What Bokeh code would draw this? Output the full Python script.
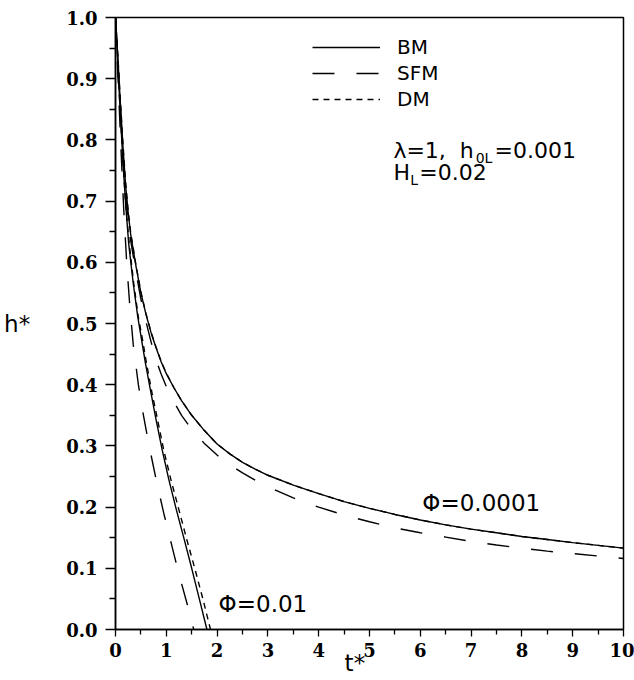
from bokeh.plotting import figure
from bokeh.models import (Range1d, FixedTicker, PrintfTickFormatter, Label,
                          Legend, LegendItem)
from bokeh.embed import file_html
from bokeh.resources import INLINE

# ---------------- data ----------------
# Phi = 0.0001
t_bm_a = [0.0, 0.025, 0.05, 0.075, 0.1, 0.15, 0.2, 0.25, 0.3, 0.4, 0.5, 0.6,
          0.7, 0.8, 0.9, 1.0, 1.15, 1.3, 1.5, 1.75, 2.0, 2.25, 2.5, 2.75, 3.0,
          3.5, 4.0, 4.5, 5.0, 5.5, 6.0, 6.5, 7.0, 7.5, 8.0, 8.5, 9.0, 9.5, 10.0]
h_bm_a = [1.0, 0.965, 0.93, 0.89, 0.855, 0.785, 0.725, 0.68, 0.645, 0.595,
          0.55, 0.515, 0.485, 0.46, 0.437, 0.418, 0.395, 0.374, 0.35, 0.325,
          0.303, 0.287, 0.273, 0.262, 0.252, 0.236, 0.222, 0.209, 0.198, 0.188,
          0.179, 0.171, 0.164, 0.158, 0.152, 0.147, 0.142, 0.1375, 0.133]
t_dm_a = [0.0, 0.025, 0.05, 0.075, 0.1, 0.15, 0.2, 0.25, 0.3, 0.4, 0.5, 0.6,
          0.7, 0.8, 0.9, 1.0, 1.15, 1.3, 1.5, 1.75, 2.0, 2.25, 2.5, 2.75, 3.0,
          3.5, 4.0, 4.5, 5.0, 5.5, 6.0, 6.5, 7.0, 7.5, 8.0, 8.5, 9.0, 9.5, 10.0]
h_dm_a = [1.0, 0.967, 0.934, 0.895, 0.86, 0.79, 0.73, 0.684, 0.648, 0.597,
          0.552, 0.516, 0.486, 0.461, 0.438, 0.419, 0.395, 0.374, 0.35, 0.325,
          0.303, 0.287, 0.273, 0.262, 0.252, 0.236, 0.222, 0.209, 0.198, 0.188,
          0.179, 0.171, 0.164, 0.158, 0.152, 0.147, 0.142, 0.1375, 0.133]
t_sfm_a = [0.0, 0.025, 0.05, 0.075, 0.1, 0.15, 0.2, 0.25, 0.3, 0.4, 0.5, 0.6,
           0.7, 0.8, 0.9, 1.0, 1.15, 1.3, 1.5, 1.75, 2.0, 2.25, 2.5, 2.75, 3.0,
           3.5, 4.0, 4.5, 5.0, 5.5, 6.0, 6.5, 7.0, 7.5, 8.0, 8.5, 9.0, 9.5,
           10.0]
h_sfm_a = [1.0, 0.96, 0.92, 0.88, 0.845, 0.775, 0.715, 0.67, 0.635, 0.585,
           0.54, 0.503, 0.47, 0.44, 0.417, 0.397, 0.372, 0.35, 0.327, 0.304,
           0.285, 0.269, 0.256, 0.244, 0.233, 0.215, 0.200, 0.187, 0.176,
           0.166, 0.158, 0.151, 0.144, 0.138, 0.133, 0.128, 0.124, 0.12, 0.116]

# Phi = 0.01
t_bm_b = [0.0, 0.025, 0.05, 0.075, 0.1, 0.15, 0.2, 0.26, 0.35, 0.44, 0.52,
          0.59, 0.7, 0.8, 0.92, 1.05, 1.2, 1.35, 1.5, 1.65, 1.8]
h_bm_b = [1.0, 0.96, 0.92, 0.875, 0.835, 0.76, 0.695, 0.63, 0.565, 0.51, 0.47,
          0.435, 0.386, 0.342, 0.293, 0.245, 0.195, 0.148, 0.10, 0.05, 0.0]
t_dm_b = [0.0, 0.025, 0.05, 0.075, 0.1, 0.15, 0.2, 0.27, 0.36, 0.45, 0.54,
          0.61, 0.72, 0.83, 0.95, 1.09, 1.25, 1.4, 1.56, 1.72, 1.87]
h_dm_b = [1.0, 0.96, 0.92, 0.875, 0.835, 0.76, 0.695, 0.63, 0.565, 0.51, 0.47,
          0.435, 0.386, 0.342, 0.293, 0.245, 0.195, 0.148, 0.10, 0.05, 0.0]
t_sfm_b = [0.0, 0.025, 0.05, 0.075, 0.1, 0.13, 0.16, 0.22, 0.28, 0.35, 0.45,
           0.55, 0.65, 0.8, 0.95, 1.1, 1.25, 1.4, 1.54]
h_sfm_b = [1.0, 0.95, 0.9, 0.85, 0.8, 0.745, 0.69, 0.6, 0.53, 0.465, 0.40,
           0.35, 0.305, 0.245, 0.19, 0.14, 0.09, 0.045, 0.0]

x_major = [0, 1, 2, 3, 4, 5, 6, 7, 8, 9, 10]
x_minor = [0.5, 1.5, 2.5, 3.5, 4.5, 5.5, 6.5, 7.5, 8.5, 9.5]
y_major = [0.0, 0.1, 0.2, 0.3, 0.4, 0.5, 0.6, 0.7, 0.8, 0.9, 1.0]
y_minor = [0.05, 0.15, 0.25, 0.35, 0.45, 0.55, 0.65, 0.75, 0.85, 0.95]

series_names = ["BM", "SFM", "DM"]
phi_labels = ["\u03a6=0.0001", "\u03a6=0.01"]

# ---------------- figure ----------------
SANS = "'DejaVu Sans'"
SERIF = "'DejaVu Serif'"

p = figure(width=634, height=680, output_backend="svg", toolbar_location=None,
           x_range=Range1d(0, 10), y_range=Range1d(0, 1.0),
           min_border_left=115, min_border_right=11, min_border_top=17,
           min_border_bottom=51)
p.xgrid.visible = False
p.ygrid.visible = False
p.background_fill_color = "white"
p.border_fill_color = "white"
p.outline_line_color = "black"
p.outline_line_width = 1.5
p.outline_line_alpha = 1.0

p.xaxis.ticker = FixedTicker(ticks=x_major, minor_ticks=x_minor)
p.yaxis.ticker = FixedTicker(ticks=y_major, minor_ticks=y_minor)
p.xaxis.formatter = PrintfTickFormatter(format="%d")
p.yaxis.formatter = PrintfTickFormatter(format="%.1f")
for ax in (p.xaxis, p.yaxis):
    ax.axis_line_width = 1.5
    ax.axis_line_color = "black"
    ax.major_tick_line_color = "black"
    ax.minor_tick_line_color = "black"
    ax.major_tick_line_width = 1.3
    ax.minor_tick_line_width = 1.3
    ax.major_tick_in = 0
    ax.minor_tick_in = 0
    ax.major_label_text_font = SERIF
    ax.major_label_text_font_size = "18px"
    ax.major_label_text_font_style = "bold"
    ax.major_label_text_color = "black"
    ax.axis_label_text_font = SANS
    ax.axis_label_text_font_size = "23px"
    ax.axis_label_text_font_style = "normal"
    ax.axis_label_text_color = "black"
p.xaxis.major_tick_out = 7
p.xaxis.minor_tick_out = 5
p.yaxis.major_tick_out = 10
p.yaxis.minor_tick_out = 6
p.xaxis.major_label_standoff = 6
p.yaxis.major_label_standoff = 8

p.xaxis.axis_label = "t*\u00a0\u00a0\u00a0\u00a0"
p.xaxis.axis_label_standoff = -10
p.yaxis.axis_label = "h*"
p.yaxis.axis_label_standoff = 33
yax = p.yaxis[0]
if "axis_label_orientation" in yax.properties():
    yax.axis_label_orientation = "horizontal"

LW = 1.4
SFM_DASH = "22 22"
DM_DASH = "6 5"

r_bm_a = p.line(t_bm_a, h_bm_a, line_color="black", line_width=LW)
r_sfm_a = p.line(t_sfm_a, h_sfm_a, line_color="black", line_width=LW,
                 line_dash=SFM_DASH)
r_dm_a = p.line(t_dm_a, h_dm_a, line_color="black", line_width=LW,
                line_dash=DM_DASH)
r_bm_b = p.line(t_bm_b, h_bm_b, line_color="black", line_width=LW)
r_sfm_b = p.line(t_sfm_b, h_sfm_b, line_color="black", line_width=LW,
                 line_dash=SFM_DASH)
r_dm_b = p.line(t_dm_b, h_dm_b, line_color="black", line_width=LW,
                line_dash=DM_DASH)

legend = Legend(items=[LegendItem(label=series_names[0], renderers=[r_bm_a]),
                       LegendItem(label=series_names[1], renderers=[r_sfm_a]),
                       LegendItem(label=series_names[2], renderers=[r_dm_a])],
                location=(197, 518), padding=0, margin=0, spacing=2,
                glyph_width=68, glyph_height=20, label_height=20,
                label_standoff=17, border_line_alpha=0,
                background_fill_alpha=0,
                label_text_font=SANS, label_text_font_size="20px",
                label_text_color="black")
p.add_layout(legend)


def lab(x, y, text, size, baseline="middle", font=SANS):
    p.add_layout(Label(x=x, y=y, text=text, text_font=font,
                       text_font_size=size, text_baseline=baseline,
                       text_color="black"))


# parameter block
lab(5.47, 0.782, "\u03bb=1,\u00a0\u00a0h", "22px", "alphabetic")
lab(7.09, 0.770, "0L", "14px", "alphabetic")
lab(7.46, 0.782, "=0.001", "22px", "alphabetic")
lab(5.47, 0.747, "H", "22px", "alphabetic")
lab(5.80, 0.735, "L", "14px", "alphabetic")
lab(5.98, 0.747, "=0.02", "22px", "alphabetic")

# curve labels
lab(6.04, 0.206, phi_labels[0], "23px")
lab(2.03, 0.042, phi_labels[1], "23px")

open("out.html", "w").write(file_html(p, INLINE))
